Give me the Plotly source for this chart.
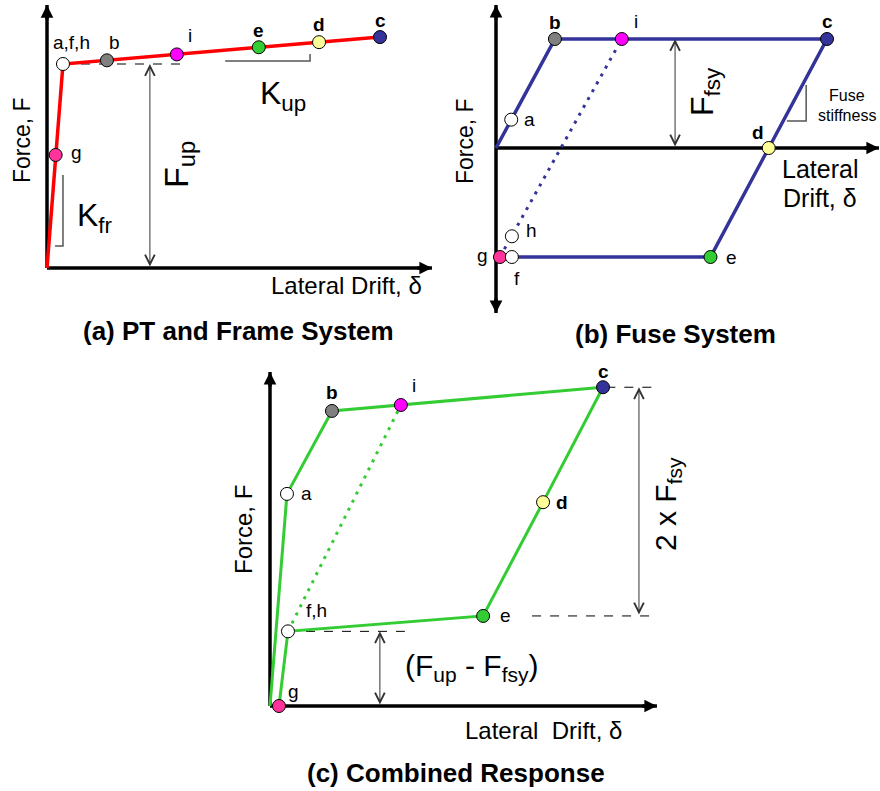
import plotly.graph_objects as go

W, H = 880, 791
FONT = "Liberation Sans, Arial, Helvetica, sans-serif"

# ---------------- (a) PT and frame system ----------------
F_UP = 1.00
FRAME_PATH_DRIFT = [0.0, 0.48, 10.0]
FRAME_PATH_FORCE = [0.0, 1.00, 1.132]
FRAME_PT_NAMES = ["a,f,h", "b", "i", "e", "d", "c", "g"]
FRAME_PT_DRIFT = [0.48, 1.80, 3.90, 6.36, 8.17, 10.0, 0.26]
FRAME_PT_FORCE = [1.00, 1.018, 1.047, 1.082, 1.107, 1.132, 0.554]

# ---------------- (b) fuse system ----------------
F_FSY = 1.00
FUSE_PATH_DRIFT = [0.0, 1.78, 10.0, 6.48, 0.48]
FUSE_PATH_FORCE = [0.0, 1.00, 1.00, -1.00, -1.00]
FUSE_UNLOAD_DRIFT = [0.12, 3.80]
FUSE_UNLOAD_FORCE = [-1.00, 1.00]
FUSE_PT_NAMES = ["a", "b", "i", "c", "d", "e", "g", "f", "h"]
FUSE_PT_DRIFT = [0.46, 1.78, 3.80, 10.0, 8.24, 6.48, 0.12, 0.48, 0.48]
FUSE_PT_FORCE = [0.26, 1.00, 1.00, 1.00, 0.00, -1.00, -1.00, -1.00, -0.81]

# ---------------- (c) combined response ----------------
COMB_PATH_DRIFT = [0.0, 0.51, 1.86, 3.93, 10.0, 8.20, 6.40, 0.54, 0.27]
COMB_PATH_FORCE = [0.0, 1.79, 2.49, 2.54, 2.69, 1.72, 0.76, 0.63, 0.0]
COMB_UNLOAD_DRIFT = [0.54, 3.93]
COMB_UNLOAD_FORCE = [0.63, 2.54]
COMB_PT_NAMES = ["a", "b", "i", "c", "d", "e", "f,h", "g"]
COMB_PT_DRIFT = [0.51, 1.86, 3.93, 10.0, 8.20, 6.40, 0.54, 0.27]
COMB_PT_FORCE = [1.79, 2.49, 2.54, 2.69, 1.72, 0.76, 0.63, 0.0]

STATE_COLORS = {
    "a": "#ffffff", "f": "#ffffff", "h": "#ffffff", "a,f,h": "#ffffff", "f,h": "#ffffff",
    "b": "#808080", "i": "#ff00ff", "c": "#333399", "d": "#ffff99",
    "e": "#33cc33", "g": "#ff3399",
}

# panel layout: pixel box, pixel origin, pixels per unit (drift, force)
PANELS = {
    "a": dict(box=(0, 0, 440, 300), origin=(47, 268), unit=(33.3, 204.0), ax=("x", "y")),
    "b": dict(box=(440, 0, 880, 320), origin=(496, 148), unit=(33.1, 109.0), ax=("x2", "y2")),
    "c": dict(box=(200, 360, 680, 760), origin=(270, 706), unit=(33.3, 118.5), ax=("x3", "y3")),
}

fig = go.Figure()
annotations = []


def axis_layout(p):
    x0, y0, x1, y1 = p["box"]
    ox, oy = p["origin"]
    sx, sy = p["unit"]
    common = dict(visible=False, showgrid=False, zeroline=False, fixedrange=True)
    xa = dict(domain=[x0 / W, x1 / W], range=[(x0 - ox) / sx, (x1 - ox) / sx], **common)
    ya = dict(domain=[1 - y1 / H, 1 - y0 / H], range=[(oy - y1) / sy, (oy - y0) / sy], **common)
    return xa, ya


def at(px, py):
    return px / W, 1 - py / H


def text(s, px, py, size, angle=0, bold=False, color="#000000"):
    x, y = at(px, py)
    if bold:
        s = "<b>" + s + "</b>"
    annotations.append(dict(text=s, x=x, y=y, xref="paper", yref="paper",
                            xanchor="center", yanchor="middle", showarrow=False,
                            textangle=angle, font=dict(family=FONT, size=size, color=color)))


def line(p, xs, ys, color, width, dash="solid"):
    xa, ya = PANELS[p]["ax"]
    fig.add_trace(go.Scatter(x=xs, y=ys, mode="lines", xaxis=xa, yaxis=ya, hoverinfo="skip",
                             line=dict(color=color, width=width, dash=dash), cliponaxis=False))


def axis_arrow(p, x_tip, y_tip, dx, dy):
    """Filled arrow head at (x_tip, y_tip) pointing along pixel direction (dx, dy)."""
    xa, ya = PANELS[p]["ax"]
    annotations.append(dict(x=x_tip, y=y_tip, xref=xa, yref=ya, ax=-dx * 16, ay=-dy * 16,
                            text="", showarrow=True, arrowhead=2, arrowsize=0.72,
                            arrowwidth=3.5, arrowcolor="#000000"))


def dim_arrow(p, x, f0, f1):
    xa, ya = PANELS[p]["ax"]
    annotations.append(dict(x=x, y=f1, ax=x, ay=f0, xref=xa, yref=ya, axref=xa, ayref=ya,
                            text="", showarrow=True, arrowside="end+start",
                            arrowhead=5, startarrowhead=5, arrowsize=1.9, startarrowsize=1.9,
                            arrowwidth=1, arrowcolor="#333333"))


def points(p, names, xs, ys, offsets, bold_names):
    xa, ya = PANELS[p]["ax"]
    fig.add_trace(go.Scatter(x=xs, y=ys, mode="markers", xaxis=xa, yaxis=ya, hoverinfo="skip",
                             cliponaxis=False,
                             marker=dict(size=13, color=[STATE_COLORS[n] for n in names],
                                         line=dict(color="#000000", width=1))))
    for n, x, y in zip(names, xs, ys):
        dx, dy = offsets[n]
        s = "<b>" + n + "</b>" if n in bold_names else n
        annotations.append(dict(x=x, y=y, xref=xa, yref=ya, text=s, showarrow=False,
                                xshift=dx, yshift=dy, xanchor="center", yanchor="middle",
                                font=dict(family=FONT, size=19, color="#000000")))


def axes(p, x_end, y_top, y_bottom=0.0, bottom_arrow=False):
    line(p, [0, x_end], [0, 0], "#000000", 3.5)
    line(p, [0, 0], [y_bottom, y_top], "#000000", 3.5)
    axis_arrow(p, x_end, 0, 1, 0)
    axis_arrow(p, 0, y_top, 0, -1)
    if bottom_arrow:
        axis_arrow(p, 0, y_bottom, 0, 1)


DOTTED = "3px,6px"

# ---------------- panel (a) ----------------
axes("a", 11.56, 1.289)
line("a", [0.48, 4.0], [F_UP, F_UP], "#000000", 1, "dash")
line("a", [0.48, 0.48, 0.24], [0.456, 0.108, 0.108], "#555555", 1.5)   # K_fr slope mark
line("a", [5.35, 7.90, 7.90], [1.015, 1.015, 1.049], "#555555", 1.5)   # K_up slope mark
dim_arrow("a", 3.09, 0.0, F_UP)
line("a", FRAME_PATH_DRIFT, FRAME_PATH_FORCE, "#ff0000", 3.5)
points("a", FRAME_PT_NAMES, FRAME_PT_DRIFT, FRAME_PT_FORCE,
       {"a,f,h": (9, 22), "b": (8, 18), "i": (13, 19), "e": (0, 17), "d": (0, 18),
        "c": (0, 17), "g": (21, 2)}, {"e", "d", "c"})
text("Force, F", 22, 140, 23, angle=-90)
text("Lateral Drift, δ", 346, 286, 24)
text("F<sub>up</sub>", 179, 165, 34, angle=-90)
text("K<sub>fr</sub>", 95, 217, 32)
text("K<sub>up</sub>", 283, 96, 32)

# ---------------- panel (b) ----------------
axes("b", 11.57, 1.312, y_bottom=-1.514, bottom_arrow=True)
line("b", [9.37, 9.37, 8.79], [0.578, 0.248, 0.248], "#555555", 1.5)   # fuse stiffness mark
dim_arrow("b", 5.41, 0.0, F_FSY)
line("b", FUSE_PATH_DRIFT, FUSE_PATH_FORCE, "#333399", 3.5)
line("b", FUSE_UNLOAD_DRIFT, FUSE_UNLOAD_FORCE, "#333399", 3, DOTTED)
points("b", FUSE_PT_NAMES, FUSE_PT_DRIFT, FUSE_PT_FORCE,
       {"a": (18, 0), "b": (0, 17), "i": (14, 18), "c": (0, 18), "d": (-11, 16),
        "e": (21, 0), "g": (-17, 2), "f": (5, -21), "h": (20, 6)}, {"b", "c", "d"})
text("Force, F", 465, 141, 23, angle=-90)
text("Lateral", 820, 169, 25)
text("Drift, δ", 820, 198, 25)
text("F<sub>fsy</sub>", 704, 92, 32, angle=-90)
text("Fuse", 847, 95, 16)
text("stiffness", 847, 115, 16)

# ---------------- panel (c) ----------------
axes("c", 11.62, 2.819)
c_f, e_f, fh_f = COMB_PT_FORCE[3], COMB_PT_FORCE[5], COMB_PT_FORCE[6]
line("c", [10.1, 11.65], [c_f, c_f], "#000000", 1, "dash")
line("c", [7.87, 11.65], [e_f, e_f], "#000000", 1, "dash")
line("c", [COMB_PT_DRIFT[6], 4.05], [fh_f, fh_f], "#000000", 1, "dash")
dim_arrow("c", 11.08, e_f, c_f)
dim_arrow("c", 3.30, 0.0, fh_f)
line("c", COMB_PATH_DRIFT, COMB_PATH_FORCE, "#33cc33", 3)
line("c", COMB_UNLOAD_DRIFT, COMB_UNLOAD_FORCE, "#33cc33", 3, DOTTED)
points("c", COMB_PT_NAMES, COMB_PT_DRIFT, COMB_PT_FORCE,
       {"a": (20, 0), "b": (0, 18), "i": (13, 20), "c": (0, 16), "d": (19, 0),
        "e": (22, 0), "f,h": (29, 21), "g": (15, 15)}, {"b", "c", "d"})
text("Force, F", 243, 530, 24, angle=-90)
text("Lateral  Drift, δ", 543, 730, 24)
text("2 x F<sub>fsy</sub>", 667, 504, 30, angle=-90)
text("(F<sub>up</sub> - F<sub>fsy</sub>)", 472, 667, 30)

# ---------------- captions ----------------
text("(a) PT and Frame System", 238, 331, 26, bold=True)
text("(b) Fuse System", 675, 334, 26, bold=True)
text("(c) Combined Response", 456, 773, 26, bold=True)

layout = dict(width=W, height=H, margin=dict(l=0, r=0, t=0, b=0),
              paper_bgcolor="#ffffff", plot_bgcolor="rgba(0,0,0,0)",
              showlegend=False, annotations=annotations)
for key, suffix in (("a", ""), ("b", "2"), ("c", "3")):
    xa, ya = axis_layout(PANELS[key])
    xa["anchor"] = "y" + suffix
    ya["anchor"] = "x" + suffix
    layout["xaxis" + suffix] = xa
    layout["yaxis" + suffix] = ya
fig.update_layout(**layout)

fig.write_html("out.html", config={"displayModeBar": False})
